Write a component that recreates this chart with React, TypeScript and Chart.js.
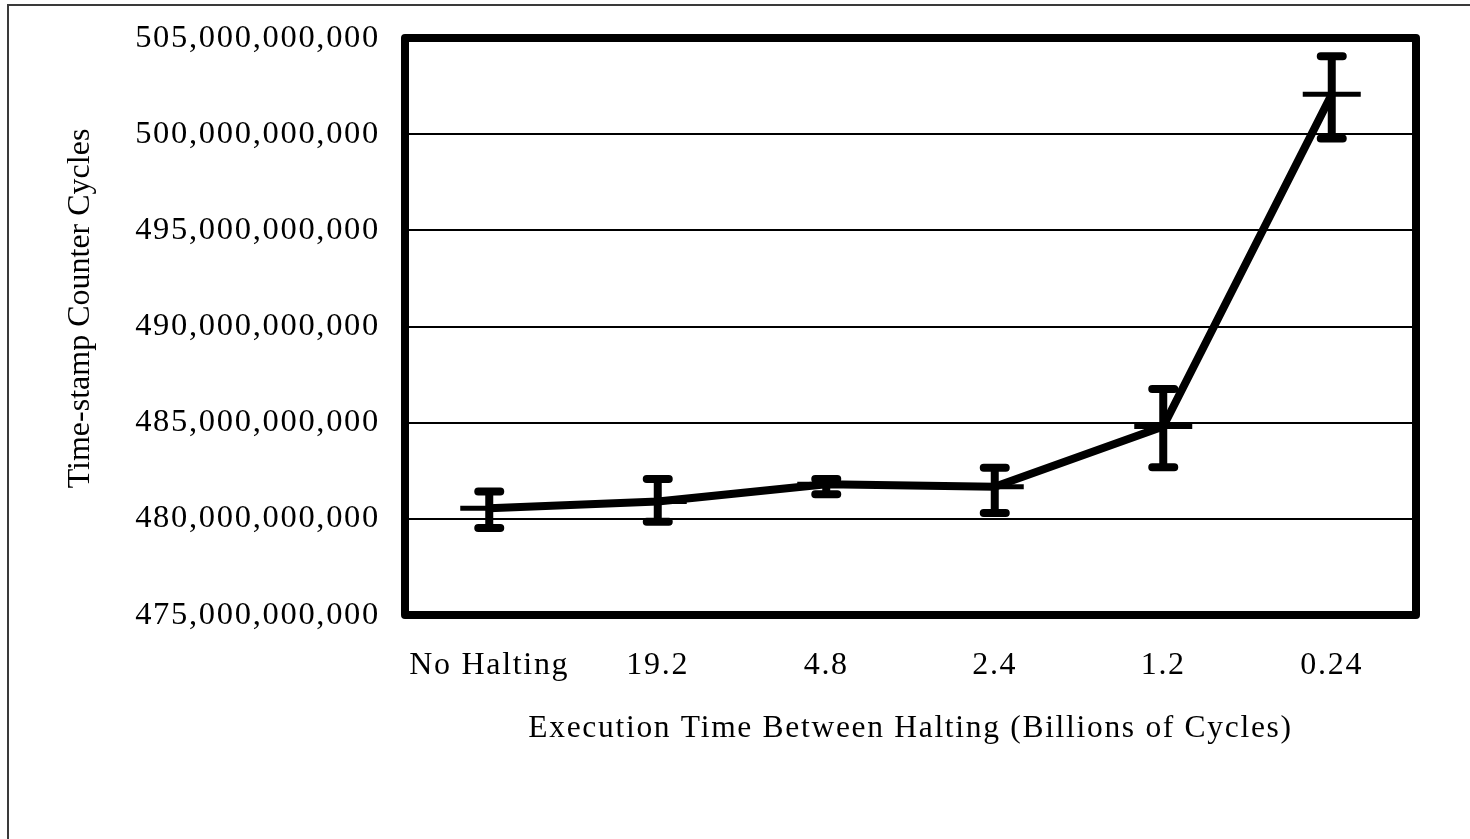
import React, { useEffect, useRef } from "react";
import { Chart, registerables } from "chart.js";

Chart.register(...registerables);

const categories = ["No Halting", "19.2", "4.8", "2.4", "1.2", "0.24"];
const meanCycles = [480.55e9, 480.9e9, 481.8e9, 481.67e9, 484.8e9, 502.07e9];
const highCycles = [481.42e9, 482.07e9, 482.07e9, 482.66e9, 486.75e9, 504.05e9];
const lowCycles = [479.52e9, 479.85e9, 481.28e9, 480.3e9, 482.68e9, 499.78e9];

const yTitle = "Time-stamp Counter Cycles";
const xTitle = "Execution Time Between Halting (Billions of Cycles)";

const W = 1470;
const H = 839;
const SPACING = "1.7px";

const framePlugin = {
  id: "frame",
  beforeDraw(chart: any) {
    const { ctx } = chart;
    ctx.save();
    ctx.fillStyle = "#fff";
    ctx.fillRect(0, 0, W, H);
    ctx.strokeStyle = "#3a3a3a";
    ctx.lineWidth = 2;
    ctx.beginPath();
    ctx.moveTo(8, H);
    ctx.lineTo(8, 5);
    ctx.lineTo(W, 5);
    ctx.stroke();
    ctx.restore();
    (ctx as any).letterSpacing = SPACING;
  },
  beforeDatasetsDraw(chart: any) {
    (chart.ctx as any).letterSpacing = "0px";
  },
  afterDatasetsDraw(chart: any) {
    const { ctx, chartArea, scales } = chart;
    const x = scales.x;
    const y = scales.y;
    ctx.save();
    ctx.strokeStyle = "#000";
    highCycles.forEach((hi, i) => {
      const px = x.getPixelForValue(i);
      const yh = y.getPixelForValue(hi);
      const yl = y.getPixelForValue(lowCycles[i]);
      ctx.lineWidth = 8;
      ctx.lineCap = "butt";
      ctx.beginPath();
      ctx.moveTo(px, yh);
      ctx.lineTo(px, yl);
      ctx.stroke();
      ctx.lineCap = "round";
      ctx.beginPath();
      ctx.moveTo(px - 11, yh);
      ctx.lineTo(px + 11, yh);
      ctx.moveTo(px - 11, yl);
      ctx.lineTo(px + 11, yl);
      ctx.stroke();
    });
    ctx.lineWidth = 8;
    ctx.lineJoin = "round";
    ctx.strokeRect(
      chartArea.left,
      chartArea.top,
      chartArea.right - chartArea.left,
      chartArea.bottom - chartArea.top
    );
    // vertical axis title
    (ctx as any).letterSpacing = "0px";
    ctx.fillStyle = "#000";
    ctx.font = "32px 'Liberation Serif'";
    ctx.textAlign = "center";
    ctx.textBaseline = "middle";
    ctx.translate(y.left + 73, (chartArea.top + chartArea.bottom) / 2 - 18);
    ctx.rotate(-Math.PI / 2);
    ctx.fillText(yTitle, 0, 0);
    ctx.restore();
  },
};

export default function App() {
  const ref = useRef<HTMLCanvasElement | null>(null);
  useEffect(() => {
    if (!ref.current) return;
    const chart = new Chart(ref.current, {
      type: "line",
      data: {
        labels: categories,
        datasets: [
          {
            data: meanCycles,
            borderColor: "#000",
            backgroundColor: "#000",
            borderWidth: 8,
            borderJoinStyle: "round",
            tension: 0,
            pointStyle: "line",
            pointRadius: 29,
            pointBorderWidth: 5,
            pointBorderColor: "#000",
            pointHoverRadius: 29,
          },
        ],
      },
      options: {
        animation: false,
        responsive: false,
        devicePixelRatio: 1,
        events: [],
        layout: { padding: { left: 8, top: 38, right: 54, bottom: 60 } },
        plugins: { legend: { display: false }, tooltip: { enabled: false } },
        scales: {
          x: {
            type: "category",
            offset: true,
            grid: { display: false },
            border: { display: false },
            ticks: {
              color: "#000",
              font: { family: "Liberation Serif", size: 32 },
              padding: 23,
              maxRotation: 0,
              autoSkip: false,
            },
            title: {
              display: true,
              text: xTitle,
              color: "#000",
              font: { family: "Liberation Serif", size: 31.5, lineHeight: 1.2 },
              padding: { top: 0, bottom: 31 },
            },
            afterFit(scale: any) {
              scale.height = 164;
              scale.paddingLeft = 0;
              scale.paddingRight = 0;
            },
          },
          y: {
            min: 475e9,
            max: 505e9,
            border: { display: false },
            grid: { color: "#000", lineWidth: 2, drawTicks: false },
            ticks: {
              stepSize: 5e9,
              color: "#000",
              font: { family: "Liberation Serif", size: 32.5 },
              padding: 25,
              callback: (v: any) => Number(v).toLocaleString("en-US"),
            },
            title: { display: false, text: yTitle },
            afterFit(scale: any) {
              scale.width = 397;
              scale.paddingTop = 0;
              scale.paddingBottom = 0;
            },
          },
        },
      },
      plugins: [framePlugin],
    });
    return () => chart.destroy();
  }, []);
  return (
    <div style={{ position: "absolute", left: 0, top: 0, width: W, height: H }}>
      <canvas ref={ref} width={W} height={H} style={{ display: "block" }} />
    </div>
  );
}
